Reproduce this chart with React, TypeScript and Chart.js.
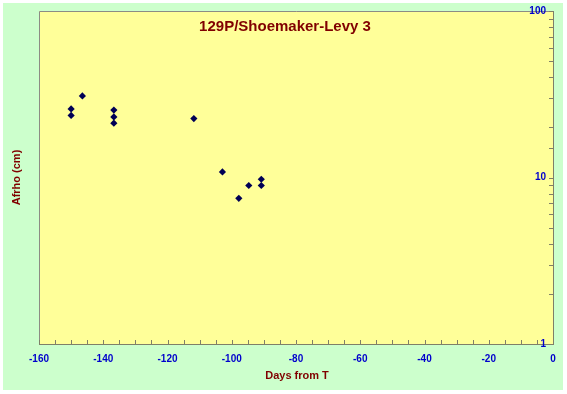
import React, { useEffect, useRef } from 'react';
import { Chart, registerables } from 'chart.js';

Chart.register(...registerables);

// ---- data ----
const days: number[] = [-150, -150, -146.5, -136.7, -136.7, -136.7, -111.8, -102.9, -97.8, -94.7, -90.8, -90.8];
const afrho: number[] = [25.8, 23.6, 30.9, 25.4, 23.1, 21.2, 22.6, 10.8, 7.5, 8.95, 9.76, 8.95];

const chartTitle = '129P/Shoemaker-Levy 3';
const xAxisTitle = 'Days from T';
const yAxisTitle = 'Afrho (cm)';
const xRange = [-160, 0];
const yRange = [1, 100];
const yLabelled = [1, 10, 100];
const xLabelStep = 20;
const xMinorStep = 5;

const FONT = 'Arial, "Liberation Sans", sans-serif';
const TITLE_COLOR = '#800000';
const TICK_COLOR = '#0000CC';
const AXIS_COLOR = '#7f7f68';

export default function App() {
  const ref = useRef<HTMLCanvasElement>(null);

  useEffect(() => {
    if (!ref.current) return;

    const decor = {
      id: 'decor',
      beforeDraw(chart: any) {
        const { ctx, chartArea: a } = chart;
        ctx.save();
        ctx.fillStyle = '#FFFF99';
        ctx.fillRect(a.left, a.top, a.right - a.left, a.bottom - a.top);
        ctx.strokeStyle = '#8c8c84';
        ctx.lineWidth = 1;
        ctx.beginPath();
        ctx.moveTo(Math.round(a.left) + 0.5, a.bottom);
        ctx.lineTo(Math.round(a.left) + 0.5, Math.round(a.top) + 0.5);
        ctx.lineTo(a.right, Math.round(a.top) + 0.5);
        ctx.stroke();
        ctx.restore();
      },
      afterDraw(chart: any) {
        const { ctx, chartArea: a } = chart;
        const xs = chart.scales.x;
        const ys = chart.scales.y;
        ctx.save();
        ctx.strokeStyle = AXIS_COLOR;
        ctx.lineWidth = 1;
        ctx.beginPath();
        xs.ticks.forEach((t: any) => {
          const px = Math.round(xs.getPixelForValue(t.value)) + 0.5;
          ctx.moveTo(px, a.bottom);
          ctx.lineTo(px, a.bottom - 4);
        });
        ys.ticks.forEach((t: any) => {
          const py = Math.round(ys.getPixelForValue(t.value)) + 0.5;
          ctx.moveTo(a.right, py);
          ctx.lineTo(a.right - 4, py);
        });
        ctx.stroke();

        // y tick labels, inside the plot, left of the right-hand axis
        ctx.fillStyle = TICK_COLOR;
        ctx.font = `bold 10px ${FONT}`;
        ctx.textAlign = 'right';
        ctx.textBaseline = 'middle';
        yLabelled.forEach((v) => {
          ctx.fillText(String(v), a.right - 7, ys.getPixelForValue(v));
        });

        // titles
        ctx.fillStyle = TITLE_COLOR;
        ctx.textAlign = 'center';
        ctx.textBaseline = 'middle';
        ctx.font = `bold 15px ${FONT}`;
        ctx.fillText(chartTitle, (a.left + a.right) / 2 - 11, a.top + 16);
        ctx.font = `bold 11px ${FONT}`;
        ctx.fillText(xAxisTitle, (a.left + a.right) / 2 + 1, a.bottom + 32);
        ctx.save();
        ctx.translate(a.left - 22, (a.top + a.bottom) / 2);
        ctx.rotate(-Math.PI / 2);
        ctx.fillText(yAxisTitle, 0, 0);
        ctx.restore();
        ctx.restore();
      },
    };

    const chart = new Chart(ref.current, {
      type: 'scatter',
      data: {
        datasets: [
          {
            data: days.map((d, i) => ({ x: d, y: afrho[i] })),
            pointStyle: 'rectRot',
            pointRadius: 3.6,
            pointHoverRadius: 3.6,
            backgroundColor: '#000055',
            borderColor: '#000055',
            borderWidth: 0,
          },
        ],
      },
      options: {
        responsive: false,
        animation: false,
        events: [],
        layout: { padding: { left: 36, top: 8, right: 10, bottom: 0 } },
        plugins: {
          legend: { display: false },
          title: { display: false },
          tooltip: { enabled: false },
        },
        scales: {
          x: {
            type: 'linear',
            position: 'bottom',
            min: xRange[0],
            max: xRange[1],
            afterFit: (s: any) => { s.height = 46; s.paddingLeft = 0; s.paddingRight = 0; },
            grid: { display: false, drawTicks: false },
            border: { display: true, color: AXIS_COLOR, width: 1 },
            ticks: {
              stepSize: xMinorStep,
              autoSkip: false,
              maxRotation: 0,
              padding: 9,
              color: TICK_COLOR,
              font: { family: FONT, size: 10, weight: 'bold' },
              callback: (v: any) => (Math.round(v) % xLabelStep === 0 ? String(v) : ''),
            },
          },
          y: {
            type: 'logarithmic',
            position: 'right',
            min: yRange[0],
            max: yRange[1],
            afterFit: (s: any) => { s.width = 0; s.paddingTop = 0; s.paddingBottom = 0; },
            grid: { display: false, drawTicks: false },
            border: { display: true, color: AXIS_COLOR, width: 1 },
            ticks: {
              display: false,
              autoSkip: false,
            },
          },
        },
      },
      plugins: [decor],
    } as any);

    return () => chart.destroy();
  }, []);

  return (
    <div style={{ position: 'absolute', left: 0, top: 0, width: 567, height: 394, background: '#ffffff' }}>
      <div style={{ position: 'absolute', left: 3, top: 3, width: 560, height: 387, background: '#CCFFCC' }}>
        <canvas ref={ref} width={560} height={387} style={{ display: 'block' }} />
      </div>
    </div>
  );
}
